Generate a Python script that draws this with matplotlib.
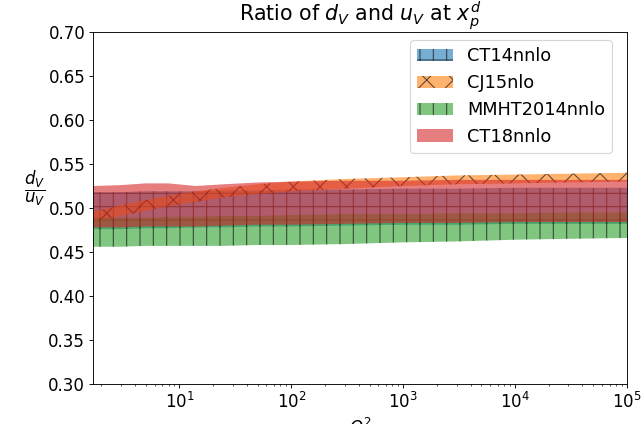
import matplotlib
matplotlib.use('Agg')
import matplotlib.pyplot as plt

# Q^2 grid and band edges
q2 = [1.69, 3, 5, 8, 14, 25, 50, 100, 300, 1000, 3000, 1e4, 3e4, 1e5]

ct14_hi = [0.518, 0.518, 0.519, 0.519, 0.519, 0.520, 0.520, 0.521, 0.521, 0.522, 0.522, 0.523, 0.523, 0.523]
ct14_lo = [0.476, 0.476, 0.477, 0.477, 0.478, 0.478, 0.479, 0.479, 0.480, 0.481, 0.481, 0.482, 0.482, 0.482]

cj15_hi = [0.496, 0.503, 0.509, 0.514, 0.519, 0.523, 0.527, 0.530, 0.533, 0.535, 0.537, 0.538, 0.539, 0.540]
cj15_lo = [0.484, 0.491, 0.497, 0.502, 0.507, 0.512, 0.516, 0.519, 0.522, 0.525, 0.527, 0.528, 0.529, 0.530]

mmht_hi = [0.489, 0.489, 0.489, 0.490, 0.490, 0.491, 0.491, 0.492, 0.493, 0.493, 0.494, 0.494, 0.495, 0.495]
mmht_lo = [0.456, 0.456, 0.457, 0.457, 0.457, 0.457, 0.458, 0.458, 0.459, 0.461, 0.462, 0.464, 0.465, 0.466]

ct18_hi = [0.525, 0.526, 0.528, 0.528, 0.525, 0.527, 0.529, 0.530, 0.531, 0.531, 0.532, 0.532, 0.532, 0.532]
ct18_lo = [0.478, 0.478, 0.479, 0.479, 0.479, 0.480, 0.481, 0.481, 0.482, 0.483, 0.483, 0.484, 0.484, 0.484]

plt.rcParams['font.size'] = 15

fig = plt.figure(figsize=(8.05, 5.3), dpi=80)
ax = fig.add_axes([0.1444, 0.0943, 0.8292, 0.8302])

ax.fill_between(q2, ct14_lo, ct14_hi, facecolor='tab:blue', edgecolor='k',
                linewidth=0, hatch='+', alpha=0.6, label='CT14nnlo')
ax.fill_between(q2, cj15_lo, cj15_hi, facecolor='tab:orange', edgecolor='k',
                linewidth=0, hatch='x', alpha=0.6, label='CJ15nlo')
ax.fill_between(q2, mmht_lo, mmht_hi, facecolor='tab:green', edgecolor='k',
                linewidth=0, hatch='|', alpha=0.6, label='MMHT2014nnlo')
ax.fill_between(q2, ct18_lo, ct18_hi, facecolor='tab:red', edgecolor='none',
                linewidth=0, alpha=0.6, label='CT18nnlo')

ax.set_xscale('log')
ax.set_xlim(1.69, 1e5)
ax.set_ylim(0.3, 0.7)
ax.set_yticks([0.30, 0.35, 0.40, 0.45, 0.50, 0.55, 0.60, 0.65, 0.70])
ax.set_title(r'Ratio of $d_V$ and $u_V$ at $x_p^d$', fontsize=18.5, pad=3)
ax.set_xlabel(r'$Q^2$')
ax.set_ylabel(r'$\dfrac{d_V}{u_V}$', rotation=0, fontsize=15, labelpad=12)
ax.legend(loc='upper right', bbox_to_anchor=(0.972, 0.977), borderaxespad=0,
          fontsize=16)

fig.savefig('out.png', dpi=80)
